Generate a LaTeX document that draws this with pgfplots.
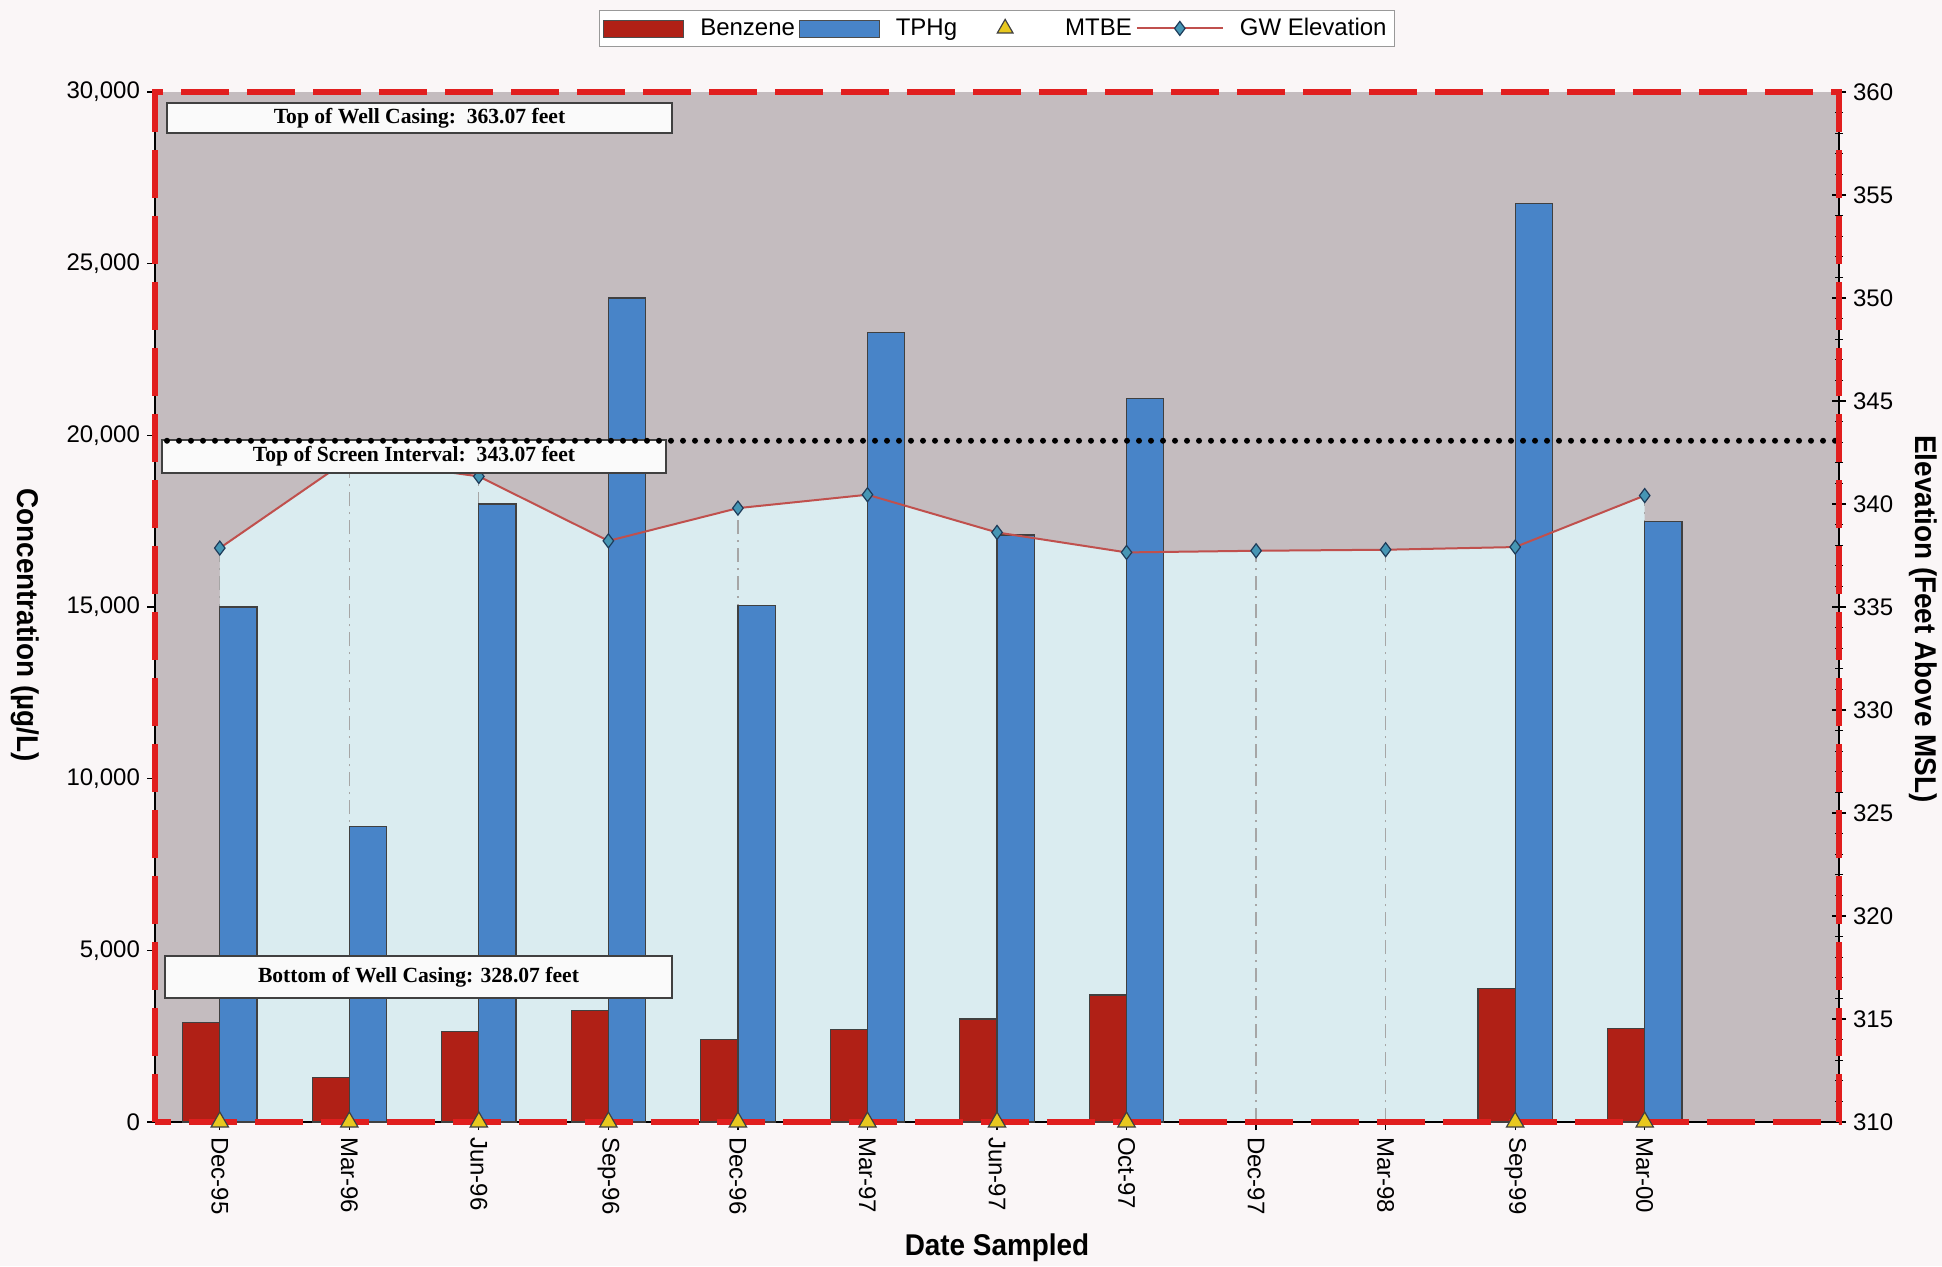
\documentclass[border=0pt]{standalone}
\usepackage{pgfplots}
\pgfplotsset{compat=1.18}
\usepackage{graphicx}
\usepackage{fontspec}
\setmainfont{Liberation Sans}
\newfontfamily\serifb{Liberation Serif}
\definecolor{benz}{RGB}{176,32,22}
\definecolor{tphg}{RGB}{72,132,200}
\definecolor{gwline}{RGB}{192,80,77}
\definecolor{gwmark}{RGB}{70,150,180}
\definecolor{gwmarkdark}{RGB}{30,60,90}
\definecolor{mtbe}{RGB}{232,200,30}
\definecolor{plotgray}{RGB}{196,188,191}
\definecolor{areablue}{RGB}{218,236,240}
\definecolor{dashred}{RGB}{225,30,30}
\definecolor{bgpink}{RGB}{250,246,247}
\pgfplotstableread{
x gw
0 337.86
1 342.2
2 341.34
3 338.21
4 339.80
5 340.45
6 338.62
7 337.65
8 337.73
9 337.78
10 337.91
11 340.41
}\gwtable
\begin{document}
\begin{tikzpicture}
\fill[bgpink] (0,0) rectangle (971pt,633pt);
\pgfplotsset{base/.style={at={(77.5pt,72pt)}, anchor=south west, width=842pt, height=515pt, scale only axis, xmin=-0.5, xmax=12.5}}
% layer 1: background, area, drop lines
\begin{axis}[base, ymin=310, ymax=360, axis lines=none, ticks=none]
\fill[plotgray] (rel axis cs:0,0) rectangle (rel axis cs:1,1);
\addplot[fill=areablue, draw=none] table[x=x, y=gw] {\gwtable} \closedcycle;
\addplot[ycomb, draw=gray!70, line width=0.6pt, dash pattern=on 7pt off 3pt on 1pt off 3pt] table[x=x, y=gw] {\gwtable};
\end{axis}
% layer 2: bars and left axis
\begin{axis}[base, ymin=0, ymax=30000, clip=false,
  axis x line*=bottom, axis y line*=left,
  axis line style={black, line width=0.8pt},
  xtick={0,...,11},
  xticklabels={Dec-95,Mar-96,Jun-96,Sep-96,Dec-96,Mar-97,Jun-97,Oct-97,Dec-97,Mar-98,Sep-99,Mar-00},
  x tick label style={rotate=-90, anchor=west, font=\fontsize{12}{14}\selectfont},
  ytick={0,5000,...,30000}, scaled y ticks=false,
  yticklabel style={/pgf/number format/1000 sep={,}, font=\fontsize{12}{14}\selectfont},
  /pgf/number format/assume math mode=true,
  tick align=outside, major tick length=4pt, tick style={black, line width=0.6pt}]
\addplot[ybar, bar width=18.6pt, bar shift=-9.3pt, fill=benz, draw=black!75, line width=0.6pt] coordinates {(0,2900) (1,1300) (2,2630) (3,3250) (4,2400) (5,2700) (6,3000) (7,3700) (10,3900) (11,2720)};
\addplot[ybar, bar width=18.6pt, bar shift=9.3pt, fill=tphg, draw=black!75, line width=0.6pt] coordinates {(0,15000) (1,8600) (2,18000) (3,24000) (4,15050) (5,23000) (6,17100) (7,21070) (10,26760) (11,17490)};
\end{axis}
% layer 3: GW line and right axis
\begin{axis}[base, ymin=310, ymax=360, clip=false,
  axis x line=none, axis y line*=right,
  axis line style={black, line width=0.8pt},
  ytick={310,315,...,360}, minor y tick num=4,
  yticklabel style={font=\fontsize{12}{14}\selectfont},
  /pgf/number format/assume math mode=true,
  tick align=center, major tick length=7pt, minor tick length=4pt, tick style={black, line width=0.6pt}]
\addplot[gwline, line width=1pt, mark=diamond*, mark size=3.5pt, mark options={fill=gwmark, draw=gwmarkdark, line width=0.6pt}] table[x=x, y=gw] {\gwtable};
\end{axis}
% annotation boxes
\draw[black!75, line width=0.8pt, fill=white!96!gray] (83.5pt,566.5pt) rectangle (336pt,581.5pt);
\node[font=\serifb\bfseries\fontsize{10.8}{12}\selectfont] at (209.75pt,574pt) {Top of Well Casing:\ \ 363.07 feet};
\draw[black!75, line width=0.8pt, fill=white!96!gray] (81pt,396.5pt) rectangle (333pt,413pt);
\node[font=\serifb\bfseries\fontsize{10.8}{12}\selectfont] at (207pt,404.75pt) {Top of Screen Interval:\ \ 343.07 feet};
\draw[black!75, line width=0.8pt, fill=white!96!gray] (82.5pt,134pt) rectangle (336pt,155pt);
\node[font=\serifb\bfseries\fontsize{10.8}{12}\selectfont] at (209.25pt,144.5pt) {Bottom of Well Casing: 328.07 feet};
% layer 4: screen line and red border
\begin{axis}[base, ymin=310, ymax=360, clip=false, axis lines=none, ticks=none]
\addplot[black, line width=3pt, dash pattern=on 0pt off 6pt, line cap=round] coordinates {(-0.5,343.07) (12.5,343.07)};
\draw[dashred, line width=3pt, dash pattern=on 24pt off 9pt] (rel axis cs:0,0) rectangle (rel axis cs:1,1);
\end{axis}
% layer 5: MTBE markers and legend
\begin{axis}[base, ymin=0, ymax=30000, clip=false, axis lines=none, ticks=none,
  legend style={at={(0.5,1)}, anchor=south, yshift=22.5pt, legend columns=-1, draw=black!40, fill=white,
    font=\fontsize{12}{14}\selectfont, inner sep=2pt, /tikz/every odd column/.append style={column sep=6pt}}]
\addlegendimage{legend image code/.code={\fill[benz, draw=black!70] (0pt,-4.25pt) rectangle (40pt,4.25pt);}}
\addlegendentry{Benzene}
\addlegendimage{legend image code/.code={\fill[tphg, draw=black!70] (0pt,-4.25pt) rectangle (40pt,4.25pt);}}
\addlegendentry{TPHg}
\addplot[only marks, mark=triangle*, mark size=5pt, mark options={fill=mtbe, draw=black!75, line width=0.6pt},
  legend image code/.code={\path[draw=none, fill=none] (0pt,-3pt) rectangle (44pt,3pt); \draw[black!75, fill=mtbe, line width=0.6pt] plot[only marks, mark=triangle*, mark size=4.5pt] coordinates {(22pt,0pt)};}]
  coordinates {(0,0) (1,0) (2,0) (3,0) (4,0) (5,0) (6,0) (7,0) (10,0) (11,0)};
\addlegendentry{MTBE}
\addlegendimage{legend image code/.code={\draw[gwline, line width=1pt] (0pt,0pt) -- (43pt,0pt); \draw[gwmarkdark, fill=gwmark, line width=0.6pt] plot[only marks, mark=diamond*, mark size=3.5pt] coordinates {(21.5pt,0pt)};}}
\addlegendentry{GW Elevation}
\end{axis}
\node[rotate=-90, font=\bfseries\fontsize{15}{18}\selectfont] at (12.5pt,320.5pt) {\scalebox{0.93}[1]{Concentration (µg/L)}};
\node[rotate=-90, font=\bfseries\fontsize{15}{18}\selectfont] at (961.5pt,323.5pt) {\scalebox{0.93}[1]{Elevation (Feet Above MSL)}};
\node[font=\bfseries\fontsize{15}{18}\selectfont] at (498.5pt,9pt) {\scalebox{0.93}[1]{Date Sampled}};
\pgfresetboundingbox
\path[use as bounding box] (0,0) rectangle (971pt,633pt);
\end{tikzpicture}
\end{document}
